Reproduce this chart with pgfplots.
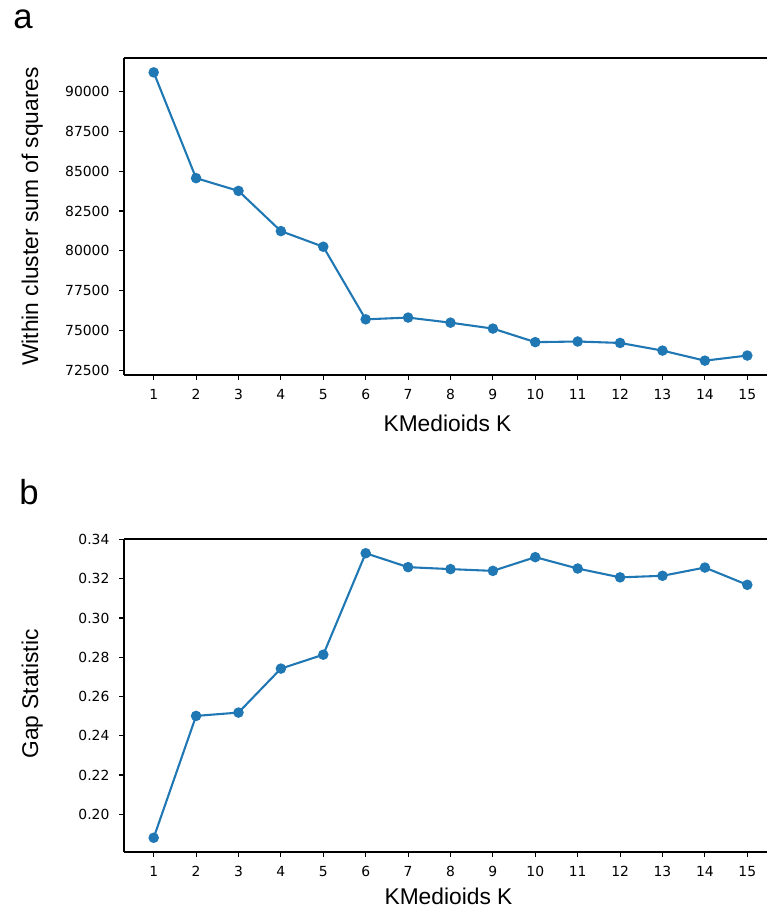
\documentclass[border=0pt]{standalone}
\usepackage{fontspec}
\setmainfont{DejaVu Sans}
\newfontfamily\labelfont{Liberation Sans}
\usepackage{pgfplots}
\pgfplotsset{compat=1.18}
\definecolor{mplblue}{HTML}{1F77B4}

\pgfplotstableread{
k wss
1 91190
2 84560
3 83760
4 81240
5 80260
6 75710
7 75820
8 75500
9 75130
10 74280
11 74320
12 74230
13 73750
14 73120
15 73440
}\wsstable

\pgfplotstableread{
k gap
1 0.1880
2 0.2501
3 0.2518
4 0.2742
5 0.2813
6 0.3330
7 0.3259
8 0.3249
9 0.3240
10 0.3310
11 0.3252
12 0.3207
13 0.3215
14 0.3257
15 0.3169
}\gaptable

\pgfplotsset{
  panel/.style={
    scale only axis,
    width=462.96pt,
    xmin=0.3, xmax=15.465,
    xtick={1,...,15},
    axis y line*=left,
    y axis line style={-},
    xtick pos=lower,
    tick align=outside,
    major tick length=3.5pt,
    axis line style={line width=0.8pt},
    every tick/.style={black, line width=0.8pt},
    tick label style={font=\fontsize{10}{12}\selectfont},
    /pgf/number format/assume math mode=true,
    xticklabel style={yshift=-3.5pt},
    yticklabel style={xshift=-3.5pt},
    scaled y ticks=false,
  },
  series/.style={mplblue, line width=1.5pt, mark=*, mark size=3pt,
    mark options={fill=mplblue, draw=mplblue}},
}

\begin{document}
\begin{tikzpicture}[x=0.72pt, y=0.72pt]
\useasboundingbox (0,0) rectangle (767,911);
\coordinate (topSW) at (124,536);
\coordinate (botSW) at (124,59);

\begin{axis}[panel,
  at={(topSW)}, anchor=south west,
  height=228.24pt,
  ymin=72221, ymax=92092,
  ytick={72500,75000,...,90000},
  yticklabel style={/pgf/number format/.cd, fixed, 1000 sep={}},
]
\addplot[series] table[x=k, y=wss] {\wsstable};
\end{axis}

\begin{axis}[panel,
  at={(botSW)}, anchor=south west,
  height=225.36pt,
  ymin=0.18075, ymax=0.34025,
  ytick={0.20,0.22,...,0.345},
  yticklabel style={/pgf/number format/.cd, fixed, fixed zerofill, precision=2},
]
\addplot[series] table[x=k, y=gap] {\gaptable};
\end{axis}

\node[anchor=base west, inner sep=0pt, font=\labelfont\fontsize{25}{30}\selectfont] at (13,882) {a};
\node[anchor=base west, inner sep=0pt, font=\labelfont\fontsize{25}{30}\selectfont] at (19,406) {b};

\node[rotate=90, anchor=base, inner sep=0pt, font=\labelfont\fontsize{16.4}{20}\selectfont] at (38,694.5) {Within cluster sum of squares};
\node[rotate=90, anchor=base, inner sep=0pt, font=\labelfont\fontsize{16.4}{20}\selectfont] at (38,217) {Gap Statistic};

\node[anchor=base, inner sep=0pt, font=\labelfont\fontsize{16.4}{20}\selectfont] at (447.5,479) {KMedioids K};
\node[anchor=base, inner sep=0pt, font=\labelfont\fontsize{16.4}{20}\selectfont] at (448.5,6) {KMedioids K};
\end{tikzpicture}
\end{document}
